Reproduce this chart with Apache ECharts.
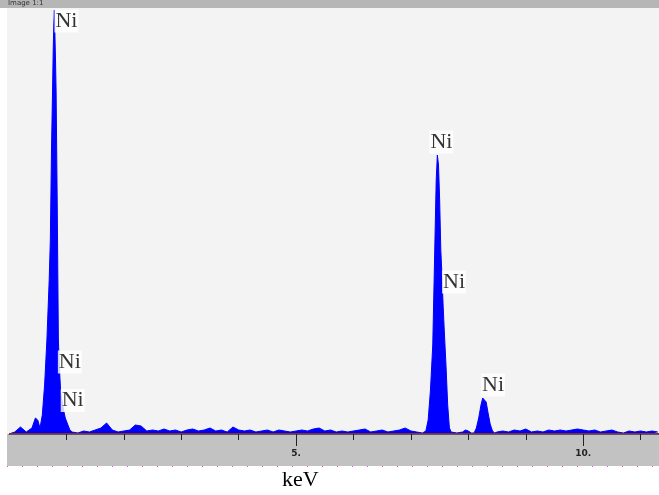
<!DOCTYPE html>
<html>
<head>
<meta charset="utf-8">
<script src="https://cdn.jsdelivr.net/npm/echarts@6/dist/echarts.min.js"></script>
<style>
html,body{margin:0;padding:0;background:#fff;}
#chart{width:659px;height:495px;}
</style>
</head>
<body>
<div id="chart"></div>
<script>
// Energy channels (keV) and counts
var energy = [
  0.0, 0.1, 0.2, 0.3, 0.4,
  0.46, 0.50, 0.54, 0.58, 0.62, 0.66, 0.70, 0.72, 0.74, 0.76, 0.77, 0.78, 0.79, 0.80, 0.81, 0.82,
  0.84, 0.86, 0.88, 0.90, 0.92, 0.95, 0.98, 1.02, 1.06, 1.10,
  1.2, 1.3, 1.4, 1.5, 1.6, 1.7, 1.8, 1.9, 2.0, 2.1, 2.2, 2.3, 2.4, 2.5, 2.6, 2.7, 2.8, 2.9,
  3.0, 3.1, 3.2, 3.3, 3.4, 3.5, 3.6, 3.7, 3.8, 3.9, 4.0, 4.1, 4.2, 4.3, 4.4, 4.5, 4.6, 4.7, 4.8, 4.9,
  5.0, 5.1, 5.2, 5.3, 5.4, 5.5, 5.6, 5.7, 5.8, 5.9, 6.0, 6.1, 6.2, 6.3, 6.4, 6.5, 6.6, 6.7, 6.8, 6.9,
  7.0, 7.1,
  7.20, 7.26, 7.30, 7.34, 7.38, 7.40, 7.42, 7.44, 7.46, 7.48, 7.50, 7.52, 7.54, 7.56, 7.58, 7.61, 7.64, 7.67, 7.70,
  7.8, 7.9, 7.95, 8.0, 8.05,
  8.10, 8.14, 8.18, 8.22, 8.25, 8.28, 8.31, 8.34, 8.38, 8.42, 8.46,
  8.5, 8.6, 8.7, 8.8, 8.9, 9.0, 9.1, 9.2, 9.3, 9.4, 9.5, 9.6, 9.7, 9.8, 9.9,
  10.0, 10.1, 10.2, 10.3, 10.4, 10.5, 10.6, 10.7, 10.8, 10.9, 11.0, 11.1, 11.2, 11.3
];
var counts = [
  0, 20, 70, 20, 60,
  160, 140, 60, 190, 490, 940, 1540, 1940, 2840, 3490, 3840, 4090, 4240, 4260, 3740, 3440,
  2300, 940, 640, 420, 340, 240, 160, 100, 40, 20,
  10, 30, 20, 40, 60, 110, 40, 20, 30, 40, 90, 80, 30, 40, 30, 50, 30, 40,
  20, 40, 50, 30, 40, 60, 30, 40, 20, 70, 40, 30, 40, 20, 30, 40, 20, 40, 30, 20,
  30, 40, 30, 50, 60, 30, 40, 20, 30, 20, 30, 40, 50, 20, 30, 40, 20, 30, 40, 60,
  30, 20,
  10, 30, 140, 440, 890, 1440, 1990, 2540, 2790, 2690, 2340, 1840, 1590, 1290, 1040, 690, 290, 60, 20,
  10, 20, 40, 30, 10,
  10, 60, 160, 290, 360, 380, 320, 220, 100, 30, 10,
  20, 30, 20, 40, 30, 50, 20, 30, 20, 40, 30, 40, 30, 40, 50,
  40, 30, 40, 20, 30, 40, 20, 10, 30, 20, 30, 20, 30, 20
];
// Peak labels
var labelText = ['Ni', 'Ni', 'Ni', 'Ni', 'Ni', 'Ni'];
var labelKeV = [1.0, 1.06, 1.11, 7.53, 7.75, 8.43];
var labelCounts = [4130, 720, 335, 2920, 1520, 490];
// Axis ticks
var minorTicks = [1, 2, 3, 4, 6, 7, 8, 9, 11];
var majorTicks = [5, 10];
var xTitle = 'keV';
var topTitle = 'Image 1:1';

var spectrum = energy.map(function (e, i) { return [e, counts[i]]; });
var labels = labelKeV.map(function (e, i) { return [e, labelCounts[i], labelText[i]]; });

var chart = echarts.init(document.getElementById('chart'), null, {renderer: 'canvas'});
chart.setOption({
  animation: false,
  backgroundColor: '#ffffff',
  graphic: [
    {type: 'rect', shape: {x: 0, y: 0, width: 659, height: 8}, style: {fill: '#b6b6b6'}, z: 0},
    {type: 'text', left: 8, top: 0, style: {text: topTitle, font: '7px "DejaVu Sans"', fill: '#333'}, z: 1},
    {type: 'rect', shape: {x: 7, y: 8, width: 652, height: 426}, style: {fill: '#f3f3f3'}, z: 0},
    {type: 'rect', shape: {x: 7, y: 434, width: 652, height: 32}, style: {fill: '#c2c2c2'}, z: 0},
    {type: 'line', shape: {x1: 7, y1: 466.5, x2: 659, y2: 466.5}, style: {stroke: '#ff40ff', lineWidth: 1, lineDash: [1, 14]}, z: 1},
    {type: 'text', left: 282, top: 469, style: {text: xTitle, font: '22px "Liberation Serif"', fill: '#000'}, z: 1}
  ],
  grid: {left: 9, right: 0, top: 8, bottom: 61, containLabel: false},
  xAxis: [
    {
      type: 'value', min: 0, max: 11.32, interval: 1,
      axisLine: {show: true, lineStyle: {color: '#5a5a5a', width: 1}},
      axisTick: {show: true, length: 6, customValues: minorTicks, lineStyle: {color: '#222'}},
      axisLabel: {show: false},
      splitLine: {show: false}
    },
    {
      type: 'value', min: 0, max: 11.32, position: 'bottom',
      axisLine: {show: false},
      axisTick: {show: true, length: 12, customValues: majorTicks, lineStyle: {color: '#222'}},
      axisLabel: {show: true, customValues: majorTicks, margin: 15, fontSize: 9, fontWeight: 'bold',
        fontFamily: 'DejaVu Sans', color: '#222', formatter: function (v) { return v + '.'; }},
      splitLine: {show: false}
    }
  ],
  yAxis: {
    type: 'value', min: 0, max: 4260, show: false, splitLine: {show: false}
  },
  series: [
    {
      type: 'line', xAxisIndex: 0, data: spectrum, symbol: 'none',
      lineStyle: {color: '#0000ff', width: 1},
      areaStyle: {color: '#0000ff', opacity: 1},
      markLine: {
        silent: true, symbol: 'none', label: {show: false},
        lineStyle: {color: '#8a2a2a', width: 1, type: 'solid'},
        data: [{yAxis: 12}]
      },
      z: 2
    },
    {
      type: 'scatter', xAxisIndex: 0, data: labels, symbolSize: 1,
      itemStyle: {color: 'rgba(0,0,0,0)'},
      label: {
        show: true, position: 'inside', formatter: function (p) { return p.data[2]; },
        fontFamily: 'Liberation Serif', fontSize: 22, color: '#000',
        backgroundColor: '#ffffff', padding: [1, 1, 0, 1]
      },
      z: 5
    }
  ]
});
</script>
</body>
</html>
